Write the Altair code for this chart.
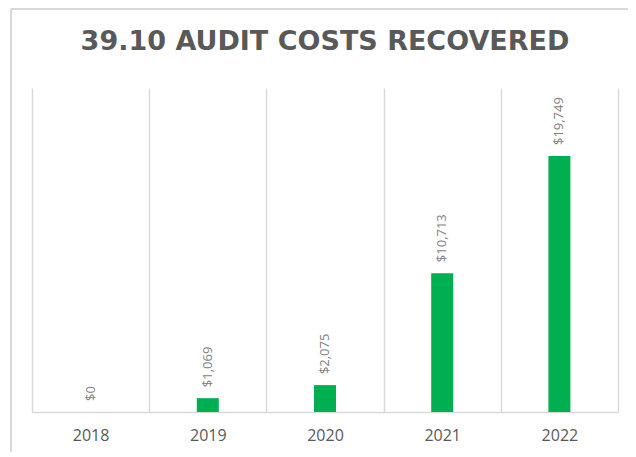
import altair as alt
import pandas as pd

years = ["2018", "2019", "2020", "2021", "2022"]
values = [0, 1069, 2075, 10713, 19749]
labels = ["$0", "$1,069", "$2,075", "$10,713", "$19,749"]

df = pd.DataFrame({"year": years, "value": values, "label": labels})

W, H = 586, 324
x = alt.X("year:N", sort=years,
          scale=alt.Scale(paddingInner=0, paddingOuter=0),
          axis=alt.Axis(title=None, labelAngle=0, grid=True, tickBand="extent",
                        gridColor="#d9d9d9", gridWidth=1.5, ticks=False,
                        domainColor="#d9d9d9", domainWidth=1.5,
                        labelFont="Open Sans", labelFontSize=16, labelColor="#595959",
                        labelPadding=15))
y = alt.Y("value:Q", scale=alt.Scale(domain=[0, 25000]), axis=None)

bars = alt.Chart(df).mark_bar(size=22, color="#00B050").encode(x=x, y=y)
text = alt.Chart(df).mark_text(angle=270, align="left", baseline="middle", dx=11,
                               font="Open Sans", fontSize=13, color="#808080").encode(
    x=x, y=y, text="label:N")

border_top = alt.Chart(df).mark_rule(color="#d9d9d9", strokeWidth=2).encode(
    x=alt.value(-21), x2=alt.value(W + 40), y=alt.value(-79))
border_left = alt.Chart(df).mark_rule(color="#d9d9d9", strokeWidth=2).encode(
    x=alt.value(-21), y=alt.value(-79), y2=alt.value(H + 60))

chart = alt.layer(border_top, border_left, bars, text).properties(
    width=W, height=H,
    autosize=alt.AutoSizeParams(type="none"),
    padding={"left": 24, "top": 80, "right": 10, "bottom": 40},
    title=alt.TitleParams("39.10 AUDIT COSTS RECOVERED", font="DejaVu Sans", fontSize=27,
                          fontWeight="bold", color="#595959", anchor="middle",
                          baseline="bottom", offset=-75),
).configure_view(stroke=None).configure_title(limit=0)

chart.save("out.html", embed_options={"renderer": "svg", "actions": False})
